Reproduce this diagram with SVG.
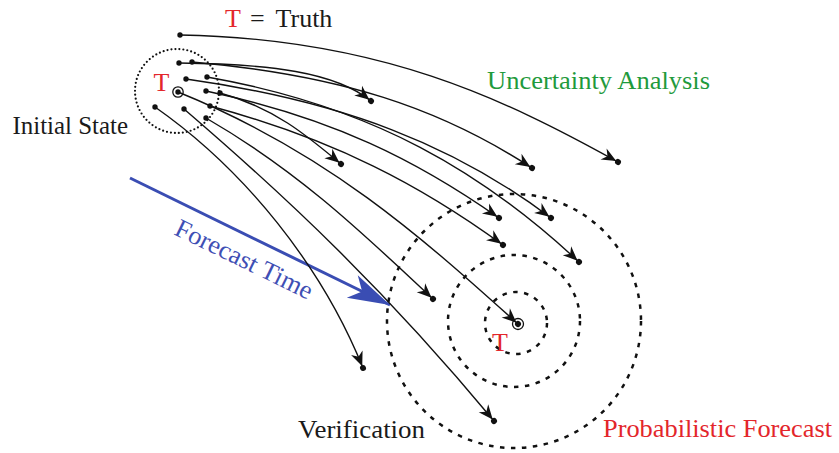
<svg xmlns="http://www.w3.org/2000/svg" width="839" height="453" viewBox="0 0 839 453">
<style>
  text { font-family: "Liberation Serif", "Times New Roman", serif; font-size: 26px; }
  .blk { fill: #1a1a1a; }
  .red { fill: #e3262b; }
  .grn { fill: #1f9a3c; }
  .blu { fill: #3f4fb4; }
  .traj { fill: none; stroke: #111; stroke-width: 1.4; marker-end: url(#ah); }
  .dot { fill: #111; }
  .ring { fill: none; stroke: #111; stroke-width: 1.3; }
  .dashc { fill: none; stroke: #111; stroke-width: 2.5; stroke-dasharray: 4.5 6.5; }
</style>
<defs>
  <marker id="ah" viewBox="-20 -9 24 18" refX="0" refY="0" markerWidth="24" markerHeight="18" markerUnits="userSpaceOnUse" orient="auto">
    <path d="M-2,0 L-16.5,-6.2 L-12,0 L-16.5,6.2 Z" fill="#111"/>
    <circle r="3" fill="#111"/>
  </marker>
  <marker id="bah" viewBox="-44 -14 46 28" refX="0" refY="0" markerWidth="46" markerHeight="28" markerUnits="userSpaceOnUse" orient="auto">
    <path d="M0,0 L-42,-12.5 L-31,0 L-42,12.5 Z" fill="#3a4db3"/>
  </marker>
</defs>

<g id="forecast-region">
  <circle class="dashc" cx="514" cy="321" r="127"/>
  <circle class="dashc" cx="514" cy="321" r="66"/>
  <circle class="dashc" cx="516" cy="323" r="31"/>
  <circle class="ring" cx="518" cy="324" r="5.5"/>
  <text class="red" x="492" y="351">T</text>
  <text class="red" x="603" y="436.5" textLength="229" lengthAdjust="spacingAndGlyphs">Probabilistic Forecast</text>
</g>

<g id="initial-state">
  <circle cx="177" cy="91" r="42" fill="none" stroke="#111" stroke-width="2.2" stroke-linecap="round" stroke-dasharray="0 4"/>
  <circle class="dot" cx="180" cy="35" r="2.7"/>
  <circle class="dot" cx="179" cy="63" r="2.7"/>
  <circle class="dot" cx="192" cy="62" r="2.7"/>
  <circle class="dot" cx="186" cy="79" r="2.7"/>
  <circle class="dot" cx="207" cy="77" r="2.7"/>
  <circle class="dot" cx="178" cy="92" r="2.7"/>
  <circle class="ring" cx="178" cy="92" r="5.2"/>
  <circle class="dot" cx="206" cy="91" r="2.7"/>
  <circle class="dot" cx="220" cy="93" r="2.7"/>
  <circle class="dot" cx="155" cy="107" r="2.7"/>
  <circle class="dot" cx="184" cy="109" r="2.7"/>
  <circle class="dot" cx="210" cy="106" r="2.7"/>
  <circle class="dot" cx="206" cy="118" r="2.7"/>
  <text class="red" x="153.5" y="91">T</text>
  <text class="blk" x="12.5" y="134.3" textLength="115.6" lengthAdjust="spacingAndGlyphs">Initial State</text>
</g>

<g id="truth-legend">
  <text class="red" x="225" y="27">T</text>
  <text class="blk" x="250" y="27">=</text>
  <text class="blk" x="275.5" y="27">Truth</text>
</g>

<g id="uncertainty-analysis">
  <text class="grn" x="487" y="89.3" textLength="223" lengthAdjust="spacingAndGlyphs">Uncertainty Analysis</text>
</g>

<g id="verification">
  <text class="blk" x="298" y="438.3" textLength="127" lengthAdjust="spacingAndGlyphs">Verification</text>
</g>

<g id="forecast-time">
  <line x1="130" y1="178" x2="390" y2="305" stroke="#3a4db3" stroke-width="3" marker-end="url(#bah)"/>
  <text class="blu" x="173" y="234" transform="rotate(26 173 234)" textLength="150" lengthAdjust="spacingAndGlyphs">Forecast Time</text>
</g>

<g id="connectors">
  <path class="traj" d="M180,35 C380,38.5 504.3,99 618,162"/>
  <path class="traj" d="M179,63 C270,64 335,72 371,101"/>
  <path class="traj" d="M192,62 C341.4,75.1 439.7,108.1 532,168"/>
  <path class="traj" d="M186,79 C344.4,101.3 455.2,145.8 551,218"/>
  <path class="traj" d="M207,77 C374.4,106.5 483.9,173.3 579,262"/>
  <path class="traj" d="M206,91 C333.2,118 417.1,160.6 499,218"/>
  <path class="traj" d="M220,93 C273.1,107.2 306.5,135.1 341,164"/>
  <path class="traj" d="M178,92 C326.3,151.9 421.4,237 518,324"/>
  <path class="traj" d="M210,106 C335.6,139.6 422.1,186.2 503,245"/>
  <path class="traj" d="M206,118 C301.3,173 367.2,237.6 433,299"/>
  <path class="traj" d="M155,107 C245.1,170.1 321.8,266 363,368"/>
  <path class="traj" d="M184,109 C290,200 385,290 494,421"/>
</g>
</svg>
